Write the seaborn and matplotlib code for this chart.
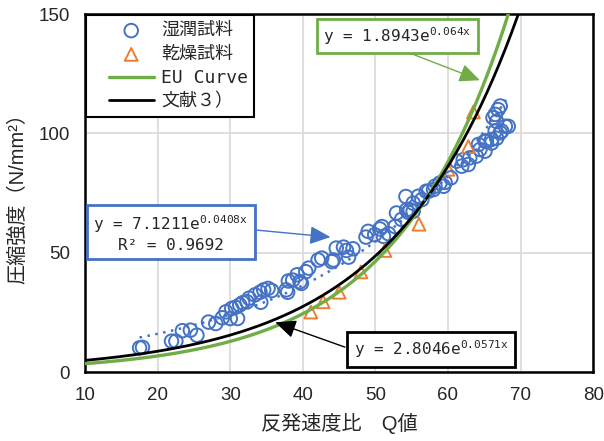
import numpy as np
import matplotlib
matplotlib.use('Agg')
import matplotlib.pyplot as plt
from matplotlib.lines import Line2D
from matplotlib.collections import PathCollection
from matplotlib.legend_handler import HandlerLine2D, HandlerPathCollection
import seaborn as sns

# 湿潤試料 (wet specimens): Q value, compressive strength
wet_q = [17.5, 17.9, 21.9, 22.5, 23.4, 24.5, 25.4, 27.0, 28.0, 28.9, 29.4, 30.0,
         30.2, 30.7, 31.0, 31.3, 31.7, 32.3, 32.6, 33.4, 34.1, 34.6, 34.2, 35.2,
         35.7, 37.7, 37.9, 38.0, 38.6, 39.2, 39.6, 39.8, 40.4, 40.8, 42.1, 42.6,
         44.0, 44.2, 44.6, 45.6, 46.0, 46.3, 46.9, 48.7, 49.0, 49.9, 50.6, 50.9,
         51.8, 51.1, 52.7, 52.9, 53.6, 54.2, 54.3, 54.5, 55.2, 54.8, 55.2, 55.9,
         56.4, 57.0, 57.3, 58.0, 58.2, 58.9, 59.4, 59.6, 60.4, 61.2, 61.9, 62.1,
         62.8, 63.0, 63.9, 64.2, 64.4, 65.1, 65.1, 65.3, 66.0, 66.0, 66.5, 66.7,
         67.2, 67.4, 67.9, 68.3, 66.2, 66.5, 66.9, 67.2, 66.7]
wet_fc = [10.2, 10.4, 13.0, 13.0, 17.4, 17.6, 15.5, 21.0, 20.4, 22.8, 25.3, 22.5,
          26.7, 27.2, 22.5, 28.2, 29.1, 29.5, 31.0, 32.4, 33.5, 34.5, 29.3, 35.1,
          34.2, 34.5, 33.5, 38.2, 38.6, 40.8, 37.9, 37.2, 42.1, 43.6, 47.0, 47.8,
          46.3, 47.0, 52.0, 52.4, 51.0, 48.2, 51.7, 56.6, 59.0, 57.6, 60.0, 61.0,
          58.0, 56.9, 61.0, 66.7, 64.0, 73.6, 68.0, 67.0, 67.4, 68.0, 70.8, 73.7,
          72.3, 75.8, 75.8, 76.5, 77.9, 79.3, 77.9, 79.5, 81.4, 88.4, 86.3, 89.0,
          87.0, 89.8, 90.5, 95.4, 93.3, 92.6, 96.8, 96.8, 96.0, 97.5, 101.0, 98.0,
          100.3, 101.0, 103.0, 103.0, 106.6, 108.0, 110.0, 111.5, 105.0]

# 乾燥試料 (dry specimens)
dry_q = [41.1, 42.8, 45.0, 48.0, 51.3, 56.0, 60.0, 62.8, 63.5]
dry_fc = [25.2, 29.5, 33.5, 42.0, 51.0, 62.0, 85.0, 94.5, 109.0]

# curve coefficients  y = a * exp(b x)
eu_a, eu_b = 1.8943, 0.064
ref_a, ref_b = 2.8046, 0.0571
fit_a, fit_b = 7.1211, 0.0408

x_ticks = [10, 20, 30, 40, 50, 60, 70, 80]
y_ticks = [0, 50, 100, 150]

blue = '#4472C4'
orange = '#ED7D31'
green = '#70AD47'

sns.set_style('whitegrid', {'grid.color': '#D9D9D9', 'axes.edgecolor': 'black'})
plt.rcParams['font.family'] = ['Liberation Sans', 'Noto Sans CJK JP']
mono = ['DejaVu Sans Mono', 'Noto Sans CJK JP']

fig = plt.figure(figsize=(6.04, 4.41), dpi=100)
ax = fig.add_axes([0.141, 0.156, 0.841, 0.812])

sns.scatterplot(x=wet_q, y=wet_fc, marker='o', s=95, facecolors='none',
                edgecolor=blue, linewidth=1.4, label='湿潤試料', ax=ax, zorder=3)
sns.scatterplot(x=dry_q, y=dry_fc, marker='^', s=85, facecolors='none',
                edgecolor=orange, linewidth=1.4, label='乾燥試料', ax=ax, zorder=3)

xx = np.linspace(10, 72, 300)
sns.lineplot(x=xx, y=eu_a * np.exp(eu_b * xx), color=green, lw=2.4,
             label='EU Curve', ax=ax, zorder=4)
sns.lineplot(x=xx, y=ref_a * np.exp(ref_b * xx), color='black', lw=2.0,
             label='文献３）', ax=ax, zorder=4)

xt = np.linspace(min(wet_q), max(wet_q), 100)
ax.plot(xt, fit_a * np.exp(fit_b * xt), color=blue, lw=1.8, ls=(0, (1, 2.2)),
        zorder=4)

ax.set_xlim(10, 80)
ax.set_ylim(0, 150)
ax.set_xticks(x_ticks)
ax.set_yticks(y_ticks)
ax.tick_params(labelsize=13.5, length=0, pad=11)
for sp in ax.spines.values():
    sp.set_color('black')
    sp.set_linewidth(1.8)
ax.grid(True, color='#D9D9D9', lw=1.2)

ax.set_xlabel('反発速度比　Q値', fontsize=14.5, labelpad=6)
ax.set_ylabel('圧縮強度（N/mm²）', fontsize=14.5, labelpad=8)

hmap = {Line2D: HandlerLine2D(xpad=0.9),
        PathCollection: HandlerPathCollection(xpad=0.9)}
leg = ax.legend(loc='upper left', prop=dict(family=mono, size=13),
                frameon=True, fancybox=False, framealpha=1, edgecolor='black',
                handlelength=3.4, handletextpad=0.4, labelspacing=0.32,
                borderaxespad=0.05, borderpad=0.35, handler_map=hmap)
leg.get_frame().set_linewidth(1.5)


def eq_box(x, y, txt, color):
    ax.text(x, y, txt, ha='center', va='center', fontsize=11.5, family=mono,
            zorder=6, bbox=dict(boxstyle='square,pad=0.4', fc='white',
                                ec=color, lw=2))


def arrow(tail, tip, color):
    ax.annotate('', xy=tip, xytext=tail, zorder=5,
                arrowprops=dict(arrowstyle='-|>,head_length=0.9,head_width=0.4',
                                color=color, lw=1, mutation_scale=14,
                                shrinkA=0, shrinkB=0))


arrow((54.8, 133.6), (64.4, 122.3), green)
arrow((33.7, 59.5), (43.8, 56.6), blue)
arrow((45.8, 10.5), (36.2, 20.9), 'black')

eq_box(53.0, 140.8, r'y = 1.8943e$\mathregular{^{0.064x}}$', green)
eq_box(21.8, 58.2, 'y = 7.1211e$\\mathregular{^{0.0408x}}$\nR² = 0.9692', blue)
eq_box(57.7, 9.6, r'y = 2.8046e$\mathregular{^{0.0571x}}$', 'black')

fig.savefig('out.png', dpi=100)
